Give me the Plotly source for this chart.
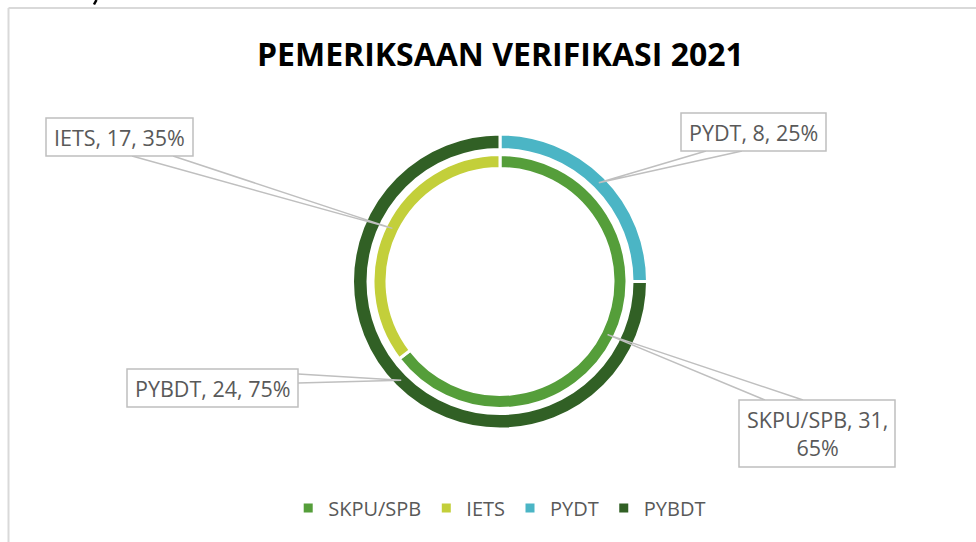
import math
import plotly.graph_objects as go

# ---------------- data ----------------
title_text = "PEMERIKSAAN VERIFIKASI 2021"
inner_labels = ["SKPU/SPB", "IETS"]
inner_values = [31, 17]
outer_labels = ["PYDT", "PYBDT"]
outer_values = [8, 24]
legend_order = ["SKPU/SPB", "IETS", "PYDT", "PYBDT"]

colors = {"SKPU/SPB": "#559E3A", "IETS": "#C3CF3A",
          "PYDT": "#4BB5C5", "PYBDT": "#316025"}

# ---------------- geometry (pixels) ----------------
W, H = 976, 542
CX, CY = 500, 281.5
R_OUT, R_OUT_HOLE = 147.5, 132.0
R_IN, R_IN_HOLE = 127.0, 113.0
FONT = "Open Sans"
TXT = "#595959"
LINE = "#BFBFBF"


def dom(r):
    return dict(x=[(CX - r) / W, (CX + r) / W],
                y=[1 - (CY + r) / H, 1 - (CY - r) / H])


fig = go.Figure()
fig.add_trace(go.Pie(labels=outer_labels, values=outer_values, hole=R_OUT_HOLE / R_OUT,
                     sort=False, direction="clockwise", rotation=0,
                     marker=dict(colors=[colors[l] for l in outer_labels],
                                 line=dict(color="white", width=3)),
                     textinfo="none", hoverinfo="label+value+percent",
                     showlegend=False, domain=dom(R_OUT)))
fig.add_trace(go.Pie(labels=inner_labels, values=inner_values, hole=R_IN_HOLE / R_IN,
                     sort=False, direction="clockwise", rotation=0,
                     marker=dict(colors=[colors[l] for l in inner_labels],
                                 line=dict(color="white", width=3)),
                     textinfo="none", hoverinfo="label+value+percent",
                     showlegend=False, domain=dom(R_IN)))

# legend entries
for lab in legend_order:
    fig.add_trace(go.Scatter(x=[None], y=[None], mode="markers", name=lab,
                             marker=dict(symbol="square", size=9, color=colors[lab]),
                             showlegend=True))


# anchor points at slice mid-angles
def anchors(labels, values, r):
    tot = sum(values)
    out = {}
    acc = 0
    for l, v in zip(labels, values):
        mid = (acc + v / 2) / tot * 2 * math.pi
        out[l] = (CX + r * math.sin(mid), CY - r * math.cos(mid),
                  round(100 * v / tot), v)
        acc += v
    return out


anc = {}
anc.update(anchors(inner_labels, inner_values, (R_IN + R_IN_HOLE) / 2))
anc.update(anchors(outer_labels, outer_values, (R_OUT + R_OUT_HOLE) / 2))

# label boxes: (x0, y0, x1, y1), tail base points
boxes = {
    "IETS": ((46, 118, 193, 156), [(132, 156), (173, 156)], False),
    "PYDT": ((681, 113, 826, 151), [(706, 151), (742, 151)], False),
    "PYBDT": ((127, 369, 298, 407), [(298, 374), (298, 383)], False),
    "SKPU/SPB": ((739, 400, 895, 467), [(765, 400), (803, 400)], True),
}

shapes = []
annotations = []
for lab, (box, tail, wrap) in boxes.items():
    ax_, ay_, pct, val = anc[lab]
    (p1, p2) = tail
    shapes.append(dict(type="path", xref="x", yref="y",
                       path=f"M{p1[0]},{p1[1]} L{ax_:.1f},{ay_:.1f} L{p2[0]},{p2[1]}",
                       line=dict(color=LINE, width=1.5)))
    shapes.append(dict(type="rect", xref="x", yref="y", x0=box[0], y0=box[1],
                       x1=box[2], y1=box[3], line=dict(color=LINE, width=1.5),
                       fillcolor="white"))
    txt = f"{lab}, {val},<br>{pct}%" if wrap else f"{lab}, {val}, {pct}%"
    annotations.append(dict(x=(box[0] + box[2]) / 2, y=(box[1] + box[3]) / 2,
                            xref="x", yref="y", text=txt, showarrow=False,
                            font=dict(family=FONT, size=21.5, color=TXT),
                            align="center", xanchor="center", yanchor="middle"))

# outer frame
shapes.append(dict(type="line", xref="x", yref="y", x0=8.5, y0=8, x1=976, y1=8,
                   line=dict(color="#D9D9D9", width=2)))
shapes.append(dict(type="line", xref="x", yref="y", x0=8.5, y0=8, x1=8.5, y1=542,
                   line=dict(color="#D9D9D9", width=2)))
# small dark stroke at the top edge (cropped page content above the chart)
shapes.append(dict(type="line", xref="x", yref="y", x0=96.5, y0=0, x1=94, y1=4.5,
                   line=dict(color="black", width=2.5)))

annotations.append(dict(x=500, y=53, xref="x", yref="y", text=f"<b>{title_text}</b>",
                        showarrow=False, font=dict(family=FONT, size=32, color="black"),
                        xanchor="center", yanchor="middle"))

fig.update_layout(
    width=W, height=H, margin=dict(l=0, r=0, t=0, b=0),
    paper_bgcolor="white", plot_bgcolor="rgba(0,0,0,0)",
    xaxis=dict(range=[0, W], visible=False, fixedrange=True),
    yaxis=dict(range=[H, 0], visible=False, fixedrange=True),
    shapes=shapes, annotations=annotations,
    legend=dict(orientation="h", x=0.512, xanchor="center", y=1 - 508 / H,
                yanchor="middle", font=dict(family=FONT, size=20, color=TXT),
                itemwidth=30, bgcolor="rgba(0,0,0,0)"),
)

fig.write_html("out.html", config={"displayModeBar": False},
               post_script="document.body.style.margin='0';document.body.style.overflow='hidden';")
